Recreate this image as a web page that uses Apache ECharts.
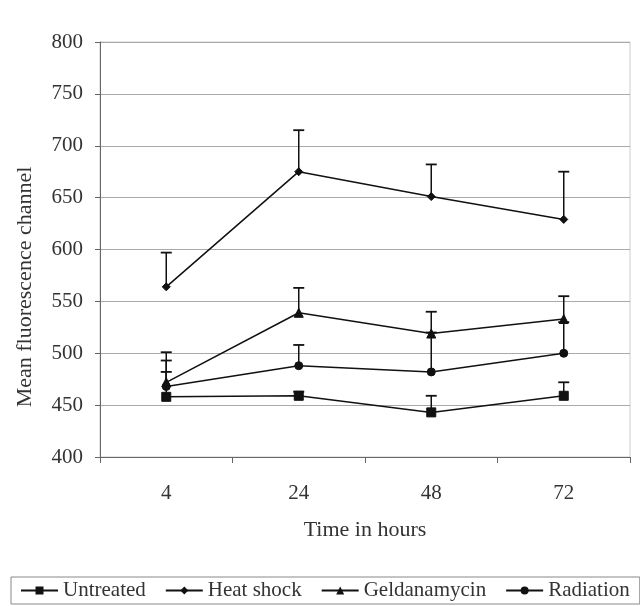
<!DOCTYPE html>
<html><head><meta charset="utf-8">
<script src="https://cdn.jsdelivr.net/npm/echarts@6/dist/echarts.min.js"></script>
<style>html,body{margin:0;padding:0;background:#fff}#c{width:640px;height:606px}</style>
</head><body><div id="c"></div>
<script>
const categories = ['4', '24', '48', '72'];
const untreated = [458, 459, 443, 459];
const untreatedErr = [482, 463, 459, 472];
const heatShock = [564, 675, 651, 629];
const heatShockErr = [597, 715, 682, 675];
const geldanamycin = [472, 539, 519, 533];
const geldanamycinErr = [501, 563, 540, 555];
const radiation = [468, 488, 482, 500];
const radiationErr = [493, 508, 520, 530];
const xTitle = 'Time in hours';
const yTitle = 'Mean fluorescence channel';

const font = '"Liberation Serif", "DejaVu Serif", serif';
const chart = echarts.init(document.getElementById('c'));

function errSeries(vals, tops) {
  return {
    type: 'custom',
    silent: true,
    z: 1,
    data: vals.map((v, i) => [i, v, tops[i]]),
    renderItem: function (params, api) {
      const p0 = api.coord([api.value(0), api.value(1)]);
      const p1 = api.coord([api.value(0), api.value(2)]);
      const hw = 5.5;
      return {
        type: 'group',
        children: [
          { type: 'line', shape: { x1: p0[0], y1: p0[1], x2: p1[0], y2: p1[1] }, style: { stroke: '#111', lineWidth: 1.5 } },
          { type: 'line', shape: { x1: p1[0] - hw, y1: p1[1], x2: p1[0] + hw, y2: p1[1] }, style: { stroke: '#111', lineWidth: 1.8 } }
        ]
      };
    }
  };
}

function lineSeries(name, data, symbol, size) {
  return {
    name: name, type: 'line', data: data, symbol: symbol, symbolSize: size,
    z: 3,
    lineStyle: { color: '#111', width: 1.5 },
    itemStyle: { color: '#111', borderColor: '#111' },
    emphasis: { disabled: true }, animation: false
  };
}

chart.setOption({
  animation: false,
  backgroundColor: '#fff',
  textStyle: { fontFamily: font },
  grid: { left: 100, right: 10, top: 42, bottom: 149 },
  xAxis: {
    type: 'category', data: categories, boundaryGap: true,
    name: xTitle, nameLocation: 'middle', nameGap: 62,
    nameTextStyle: { fontFamily: font, fontSize: 22, color: '#333' },
    axisLine: { lineStyle: { color: '#666', width: 1 } },
    axisTick: { show: true, length: 6, lineStyle: { color: '#666' } },
    axisLabel: { fontFamily: font, fontSize: 21, color: '#333', margin: 26 },
    splitLine: { show: false }
  },
  yAxis: {
    type: 'value', min: 400, max: 800, interval: 50,
    axisLine: { show: true, lineStyle: { color: '#666' } },
    axisTick: { show: true, length: 5, lineStyle: { color: '#666' } },
    axisLabel: { fontFamily: font, fontSize: 21, color: '#333', margin: 17 },
    splitLine: { show: true, lineStyle: { color: '#aaa', width: 1 } }
  },
  graphic: [{
    type: 'rect', shape: { x: 100, y: 42, width: 530, height: 415 },
    style: { fill: 'none', stroke: '#ccc', lineWidth: 1 }, silent: true, z: -1
  }, {
    type: 'text', x: 25, y: 287, rotation: Math.PI / 2,
    style: { text: yTitle, font: '22px ' + font, fill: '#333', align: 'center', verticalAlign: 'middle' },
    silent: true
  }],
  legend: {
    bottom: 2, left: 11,
    data: ['Untreated', 'Heat shock', 'Geldanamycin', 'Radiation'],
    itemWidth: 37, itemHeight: 10, itemGap: 19,
    padding: [3, 10, 3, 9],
    borderColor: '#888', borderWidth: 1, backgroundColor: '#fff',
    textStyle: { fontFamily: font, fontSize: 21, color: '#333' }
  },
  series: [
    errSeries(untreated, untreatedErr),
    errSeries(heatShock, heatShockErr),
    errSeries(geldanamycin, geldanamycinErr),
    errSeries(radiation, radiationErr),
    lineSeries('Untreated', untreated, 'rect', 9),
    lineSeries('Heat shock', heatShock, 'diamond', 8),
    lineSeries('Geldanamycin', geldanamycin, 'triangle', 9),
    lineSeries('Radiation', radiation, 'circle', 8)
  ]
});
</script></body></html>
